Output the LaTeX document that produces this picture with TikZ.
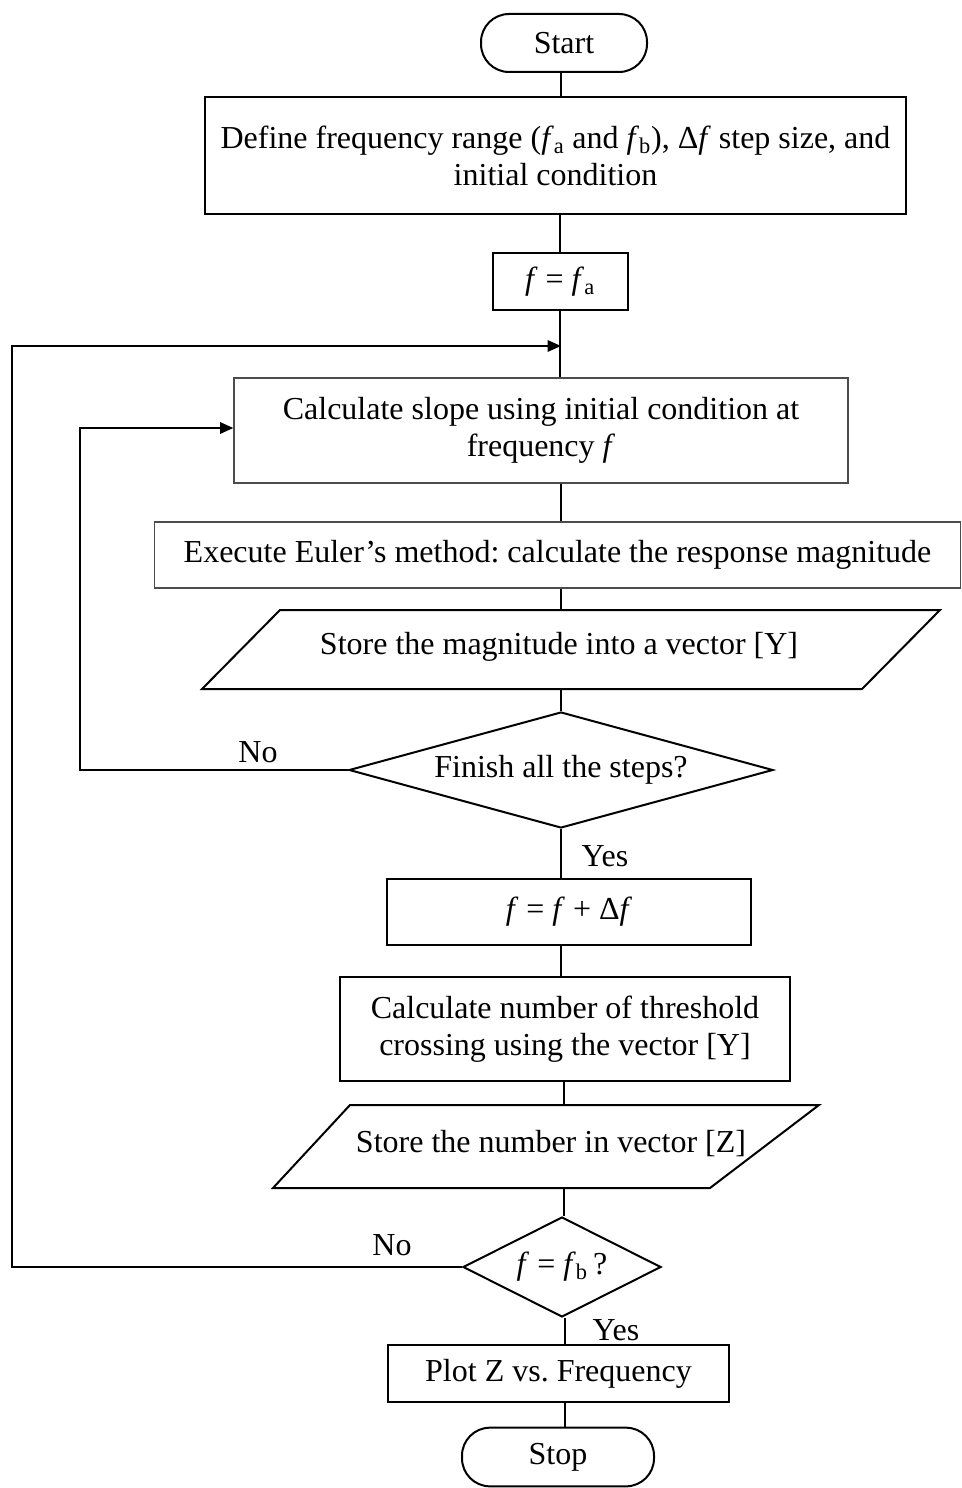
\documentclass[tikz,border=0pt]{standalone}
\usepackage{fontspec}
\setmainfont{Liberation Serif}
\usetikzlibrary{shapes.geometric,arrows.meta}
\newcommand{\ff}{\textit{f}}
\frenchspacing
\begin{document}
\begin{tikzpicture}[x=0.75pt,y=-0.75pt,
  every node/.style={font=\fontsize{24}{27.75}\selectfont},
  line/.style={line width=1.5pt},
  arr/.style={line width=1.5pt,-{Triangle[length=10pt,width=8.5pt]}},
  procbox/.style={draw,line width=1.5pt,rectangle,inner sep=0pt,align=center},
  softbox/.style={draw=black!70,line width=0.9pt,rectangle,inner sep=0pt,align=center},
  term/.style={draw,line width=1.5pt,rectangle,rounded corners=21pt,inner sep=0pt},
  decide/.style={draw,line width=1.5pt,diamond,inner sep=0pt},
  para/.style={line width=1.5pt},
  lbl/.style={inner sep=0pt}]
\useasboundingbox (0,0) rectangle (961,1488);
\clip (0,0) rectangle (961,1488);

% terminals and process steps
\node[term,minimum width=124.5pt,minimum height=43.5pt] (start) at (564,43) {Start};
\node[procbox,minimum width=525.75pt,minimum height=87.75pt] (define) at (555.5,155.5)
  {Define frequency range (\ff\textsubscript{a} and \ff\textsubscript{b}), Δ\ff{} step size, and\\ initial condition};
\node[procbox,minimum width=101.25pt,minimum height=42.75pt] (fa) at (560,281.5)
  {\ff{} = \ff\textsubscript{a}};
\node[softbox,minimum width=460.5pt,minimum height=78.75pt] (slope) at (541,430.5)
  {Calculate slope using initial condition at\\ frequency \ff};
\node[softbox,minimum width=605pt,minimum height=49.5pt] (euler) at (557.5,555)
  {Execute Euler's method: calculate the response magnitude};

% first output step (parallelogram)
\draw[para] (280,610) -- (940,610) -- (862,689) -- (202,689) -- cycle;
\node[lbl] (storeY) at (559,647) {Store the magnitude into a vector [Y]};
\coordinate (storeYtop) at (561,610);
\coordinate (storeYbot) at (561,689);

\node[decide,aspect=3.66,minimum width=318pt,minimum height=87pt] (steps) at (561,770)
  {Finish all the steps?};
\node[procbox,minimum width=273pt,minimum height=49.5pt] (incr) at (569,912)
  {\ff{} = \ff{} + Δ\ff};
\node[procbox,minimum width=337.5pt,minimum height=78pt] (count) at (565,1029)
  {Calculate number of threshold\\ crossing using the vector [Y]};

% second output step (parallelogram)
\draw[para] (350,1105) -- (819,1105) -- (710,1188) -- (273,1188) -- cycle;
\node[lbl] (storeZ) at (551,1144) {Store the number in vector [Z]};
\coordinate (storeZtop) at (564,1105);
\coordinate (storeZbot) at (564,1188);

\node[decide,aspect=1.98,minimum width=148.5pt,minimum height=75pt] (fb) at (562,1267)
  {\ff{} = \ff\textsubscript{b}\,?};
\node[procbox,minimum width=255.75pt,minimum height=42.75pt] (plot) at (558.5,1373.5)
  {Plot Z vs. Frequency};
\node[term,minimum width=144pt,minimum height=44pt] (stop) at (558,1457) {Stop};

% main flow
\coordinate (join) at (561,346);
\draw[line] (561,72) -- (561,97);
\draw[line] (define.south -| fa.north) -- (fa.north);
\draw[line] (fa.south) -- (fa.south |- slope.north);
\draw[line] (slope.south -| 561,0) -- (euler.north -| 561,0);
\draw[line] (euler.south -| 561,0) -- (storeYtop);
\draw[line] (storeYbot) -- (steps.north);
\draw[line] (steps.south) -- (steps.south |- incr.north);
\draw[line] (incr.south -| steps.south) -- (count.north -| steps.south);
\draw[line] (count.south -| storeZtop) -- (storeZtop);
\draw[line] (storeZbot) -- (storeZbot |- fb.north);
\draw[line] (fb.south -| 565,0) -- (plot.north -| 565,0);
\draw[line] (plot.south -| 565,0) -- (stop.north -| 565,0);

% loops back
\draw[arr] (steps.west) -| (80,428) -- (slope.west |- 0,428);
\draw[arr] (fb.west) -| (12,346) -- (join);

% branch labels
\node[lbl] (no1) at (258,752) {No};
\node[lbl] (yes1) at (605,856) {Yes};
\node[lbl] (no2) at (392,1245) {No};
\node[lbl] (yes2) at (616,1330) {Yes};
\end{tikzpicture}
\end{document}
